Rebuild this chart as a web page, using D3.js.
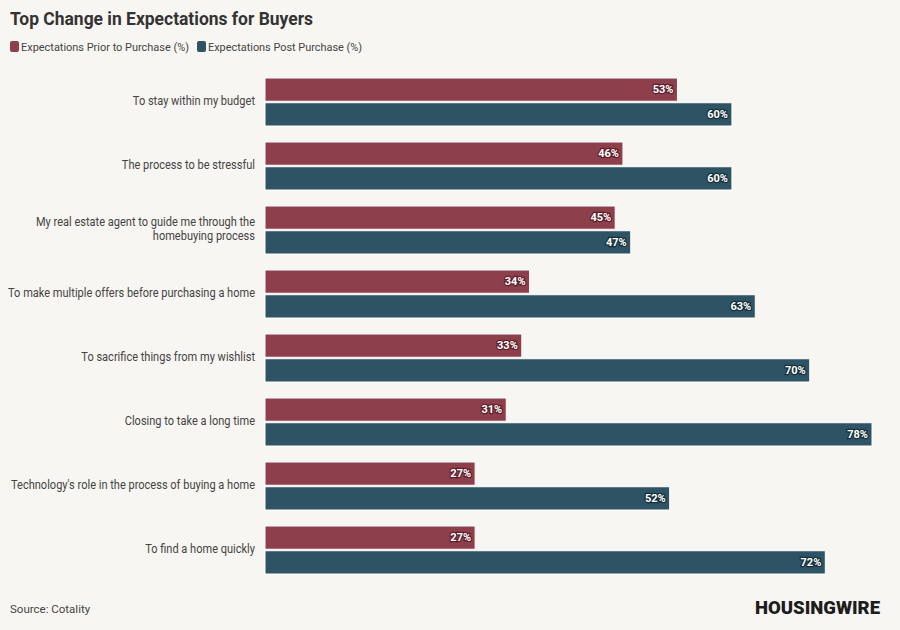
<!DOCTYPE html>
<html>
<head>
<meta charset="utf-8">
<script src="https://cdn.jsdelivr.net/npm/d3@7"></script>
<style>
  body { margin: 0; background: #f8f6f2; }
  svg { display: block; font-family: Roboto, sans-serif; }
</style>
</head>
<body>
<svg width="900" height="630"></svg>
<script>
// chart data
var categories = [
  ["To stay within my budget"],
  ["The process to be stressful"],
  ["My real estate agent to guide me through the", "homebuying process"],
  ["To make multiple offers before purchasing a home"],
  ["To sacrifice things from my wishlist"],
  ["Closing to take a long time"],
  ["Technology's role in the process of buying a home"],
  ["To find a home quickly"]
];
var priorValues = [53, 46, 45, 34, 33, 31, 27, 27];
var postValues = [60, 60, 47, 63, 70, 78, 52, 72];
var seriesNames = ["Expectations Prior to Purchase (%)", "Expectations Post Purchase (%)"];
var seriesColors = ["#8e3f4c", "#2e5364"];
var labelStroke = ["#5e1f2b", "#16303b"];

var svg = d3.select("svg");
var margin = {top: 70, right: 28, bottom: 48, left: 265};
var labelScale = 0.92;

var rows = categories.map(function(c, i) {
  return {idx: i, label: c, values: [priorValues[i], postValues[i]]};
});

var y0 = d3.scaleBand()
  .domain(d3.range(categories.length))
  .range([margin.top, margin.top + 64 * categories.length])
  .paddingInner(0.25)
  .paddingOuter(0.125);

var y1 = d3.scaleBand()
  .domain([0, 1])
  .range([0, y0.bandwidth()])
  .paddingInner(0.06);

var x = d3.scaleLinear()
  .domain([0, 78])
  .range([margin.left, 872]);

// title + legend
svg.append("text")
  .attr("x", 10).attr("y", 25)
  .attr("font-size", 18).attr("font-weight", "bold")
  .attr("fill", "#333")
  .attr("textLength", 303).attr("lengthAdjust", "spacingAndGlyphs")
  .text("Top Change in Expectations for Buyers");

var legendX = [10, 197];
var legendW = [168, 154];
seriesNames.forEach(function(name, i) {
  svg.append("rect")
    .attr("x", legendX[i]).attr("y", 41)
    .attr("width", 9).attr("height", 11)
    .attr("rx", 2)
    .attr("fill", seriesColors[i]);
  svg.append("text")
    .attr("x", legendX[i] + 11).attr("y", 50.5)
    .attr("font-size", 11.5).attr("fill", "#444")
    .attr("textLength", legendW[i]).attr("lengthAdjust", "spacingAndGlyphs")
    .text(name);
});

var g = svg.append("g");

var group = g.selectAll("g.row")
  .data(rows)
  .enter().append("g")
    .attr("class", "row")
    .attr("transform", function(d) { return "translate(0," + y0(d.idx) + ")"; });

group.selectAll("rect")
  .data(function(d) { return d.values; })
  .enter().append("rect")
    .attr("x", x(0))
    .attr("y", function(d, i) { return y1(i); })
    .attr("width", function(d) { return x(d) - x(0); })
    .attr("height", y1.bandwidth())
    .attr("fill", function(d, i) { return seriesColors[i]; })
    .attr("stroke", "#ffffff")
    .attr("stroke-width", 1);

group.selectAll("text.val")
  .data(function(d) { return d.values; })
  .enter().append("text")
    .attr("class", "val")
    .attr("x", function(d) { return x(d) - 4; })
    .attr("y", function(d, i) { return y1(i) + y1.bandwidth() / 2; })
    .attr("dy", "0.35em")
    .attr("text-anchor", "end")
    .attr("font-size", 11).attr("font-weight", "bold")
    .attr("fill", "#fff")
    .attr("stroke", function(d, i) { return labelStroke[i]; })
    .attr("stroke-width", 2.5)
    .attr("paint-order", "stroke")
    .text(function(d) { return d + "%"; });

// category labels, squeezed a little to look condensed
var labelX = margin.left - 10;
group.each(function(d) {
  var t = d3.select(this).append("text")
    .attr("class", "cat")
    .attr("text-anchor", "end")
    .attr("font-size", 12).attr("fill", "#444")
    .attr("transform", "translate(" + labelX + ",0) scale(" + labelScale + ",1)");
  var n = d.label.length;
  d.label.forEach(function(line, k) {
    t.append("tspan")
      .attr("x", 0)
      .attr("y", y0.bandwidth() / 2 + (k - (n - 1) / 2) * 14 - 1)
      .attr("dy", "0.35em")
      .text(line);
  });
});

// footer
svg.append("text")
  .attr("x", 10).attr("y", 613)
  .attr("font-size", 11.5).attr("fill", "#444")
  .text("Source: Cotality");

svg.append("text")
  .attr("x", 880).attr("y", 614)
  .attr("text-anchor", "end")
  .attr("font-size", 19).attr("font-weight", 900)
  .attr("fill", "#1d1d1d")
  .attr("textLength", 125).attr("lengthAdjust", "spacingAndGlyphs")
  .text("HOUSINGWIRE");
</script>
</body>
</html>
